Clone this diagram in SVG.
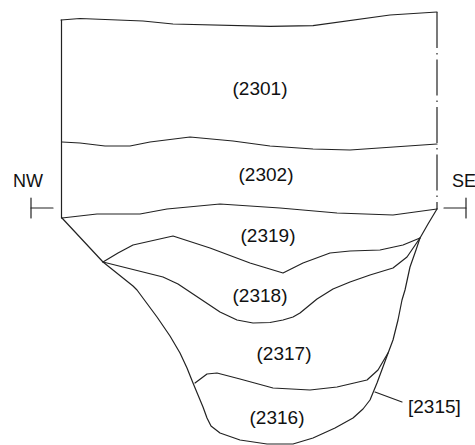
<svg xmlns="http://www.w3.org/2000/svg" width="475" height="445" viewBox="0 0 475 445">
  <style>
    .ln { fill: none; stroke: #222; stroke-width: 1.2; stroke-linejoin: round; stroke-linecap: round; }
    .axis { stroke-dasharray: 36 5 1.5 5; stroke-linecap: butt; }
    .lbl { font-family: "Liberation Sans", Arial, sans-serif; font-size: 19px; fill: #111; }
    .dir { font-size: 18px; }
    .mid { text-anchor: middle; }
  </style>
  <rect width="475" height="445" fill="#fff"/>

  <!-- layer boundaries of the section -->
  <g id="boundaries">
    <!-- top surface -->
    <polyline class="ln" points="61,20 80,18.5 143,21 173,24 270,26.3 313,25.7 390,15 437,12"/>
    <!-- left wall -->
    <line class="ln" x1="61.5" y1="20" x2="61.5" y2="218"/>
    <!-- right wall (section line) -->
    <line class="ln axis" x1="437" y1="12" x2="437" y2="209"/>
    <!-- 2301 / 2302 -->
    <polyline class="ln" points="62,142 80,143 105,146 130,146 150,142 190,137 233,141 270,146 313,149 350,150 437,144"/>
    <!-- 2302 / 2319 -->
    <polyline class="ln" points="62,218 97,214 140,214 167,209 220,204 280,208 337,213 393,215 437,209"/>
    <!-- outer edge of the cut -->
    <polyline class="ln" points="62,218 103,262 133,286 137,290 157,317 170,336 180,353 187,368 193,383 198,395 203,407 207,418 211,426 220,433 240,440 267,444 293,444 313,438 335,428 353,418 363,409 370,400 377,383 387,356 393,340 398,320 402,300 405,290 410,267 416,250 420,238 428,224 437,209"/>
    <!-- 2319 / 2318 -->
    <polyline class="ln" points="103,262 118,253 133,245 173,236 210,248 250,263 283,273 293,268 303,263 330,253 350,251 380,250 403,245 420,238"/>
    <!-- 2318 / 2317 -->
    <polyline class="ln" points="103,262 163,277 178,284 190,292 220,312 237,320 253,323 270,322.5 283,320 293,317 300,313 317,299 333,289 350,282 370,275 393,268 407,257 420,238"/>
    <!-- 2317 / 2316 -->
    <polyline class="ln" points="195,383 207,374 217,373 240,379 273,388 310,390 337,387 367,380 378,370 388,353"/>
    <!-- leader for [2315] -->
    <line class="ln" x1="375" y1="392" x2="402" y2="402"/>
  </g>

  <!-- NW / SE section markers -->
  <g id="marker-nw">
    <line class="ln" x1="31" y1="198" x2="31" y2="218"/>
    <line class="ln" x1="31" y1="208" x2="53" y2="208"/>
    <text class="lbl dir" x="13" y="187">NW</text>
  </g>
  <g id="marker-se">
    <line class="ln" x1="466" y1="198" x2="466" y2="218"/>
    <line class="ln" x1="444" y1="208" x2="466" y2="208"/>
    <text class="lbl dir" x="452" y="187">SE</text>
  </g>

  <!-- unit labels -->
  <g id="labels">
    <text class="lbl mid" x="260" y="95">(2301)</text>
    <text class="lbl mid" x="266" y="181">(2302)</text>
    <text class="lbl mid" x="268" y="242">(2319)</text>
    <text class="lbl mid" x="260" y="302">(2318)</text>
    <text class="lbl mid" x="284" y="360">(2317)</text>
    <text class="lbl mid" x="277" y="424">(2316)</text>
    <text class="lbl" x="408" y="413">[2315]</text>
  </g>
</svg>
